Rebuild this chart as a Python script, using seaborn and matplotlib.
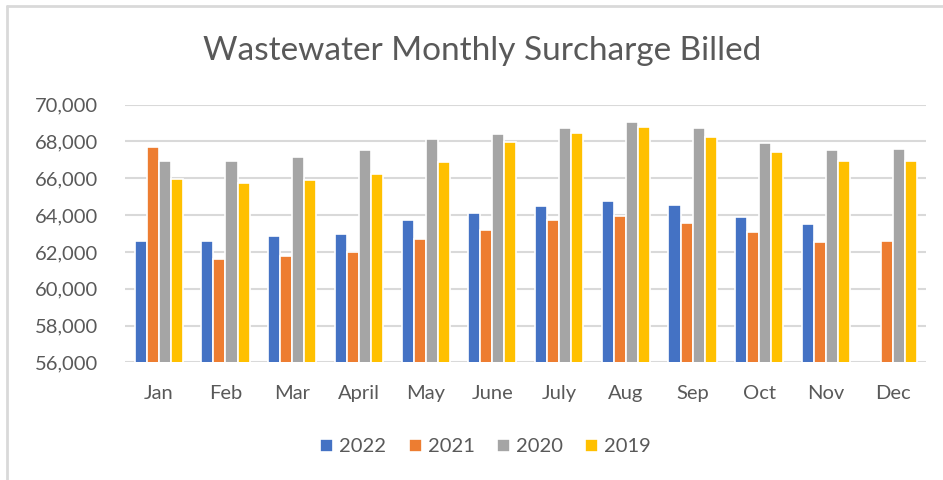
import matplotlib.pyplot as plt
import seaborn as sns
import pandas as pd
import numpy as np

# %% Data
months = ['Jan', 'Feb', 'Mar', 'April', 'May', 'June', 'July', 'Aug', 'Sep', 'Oct', 'Nov', 'Dec']
years = ['2022', '2021', '2020', '2019']
s2022 = [62620, 62620, 62840, 62960, 63720, 64140, 64480, 64770, 64550, 63920, 63500, np.nan]
s2021 = [67680, 61640, 61790, 61990, 62690, 63180, 63720, 63940, 63580, 63090, 62530, 62620]
s2020 = [66920, 66920, 67140, 67560, 68120, 68390, 68710, 69070, 68710, 67900, 67560, 67610]
s2019 = [65950, 65730, 65890, 66220, 66870, 67990, 68440, 68800, 68220, 67410, 66920, 66920]

df = pd.DataFrame({'Month': months, '2022': s2022, '2021': s2021, '2020': s2020, '2019': s2019})
df = df.melt(id_vars='Month', var_name='Year', value_name='Billed')

colors = ['#4472C4', '#ED7D31', '#A5A5A5', '#FFC000']

# %% Plot
sns.set_theme(style='white')
plt.rcParams['font.family'] = ['Lato', 'DejaVu Sans']

fig, ax = plt.subplots(figsize=(9.43, 4.8), dpi=100)
fig.subplots_adjust(left=0.133, right=0.982, top=0.782, bottom=0.245)

sns.barplot(data=df, x='Month', y='Billed', hue='Year', hue_order=years,
            palette=colors, width=0.72, edgecolor='white', linewidth=1.2,
            saturation=1, ax=ax, legend=True)

ax.set_ylim(56000, 70000)
ax.set_yticks(np.arange(56000, 70001, 2000))
ax.yaxis.set_major_formatter(plt.FuncFormatter(lambda v, p: f'{int(v):,}'))
ax.grid(axis='y', color='#D9D9D9', linewidth=1.5)
ax.set_axisbelow(True)
sns.despine(ax=ax, left=True, bottom=True)
ax.tick_params(axis='both', length=0, labelsize=14.5, labelcolor='#595959')
ax.tick_params(axis='y', pad=20)
ax.tick_params(axis='x', pad=16)
ax.set_xlabel('')
ax.set_ylabel('')

fig.text(0.511, 0.893, 'Wastewater Monthly Surcharge Billed', ha='center', va='center',
         fontsize=24, color='#595959')

handles, labels = ax.get_legend_handles_labels()
ax.get_legend().remove()
fig.legend(handles, labels, loc='center', bbox_to_anchor=(0.515, 0.069), ncol=4, frameon=False,
           fontsize=14.5, labelcolor='#595959', handlelength=0.65, handleheight=0.65,
           handletextpad=0.3, columnspacing=1.1)

# screenshot frame (top and left edges only)
fig.add_artist(plt.Line2D([0.0074, 1], [0.9875, 0.9875], transform=fig.transFigure,
                          color='#D9D9D9', linewidth=2))
fig.add_artist(plt.Line2D([0.0074, 0.0074], [0, 0.9875], transform=fig.transFigure,
                          color='#D9D9D9', linewidth=2))

fig.savefig('out.png', dpi=100)
